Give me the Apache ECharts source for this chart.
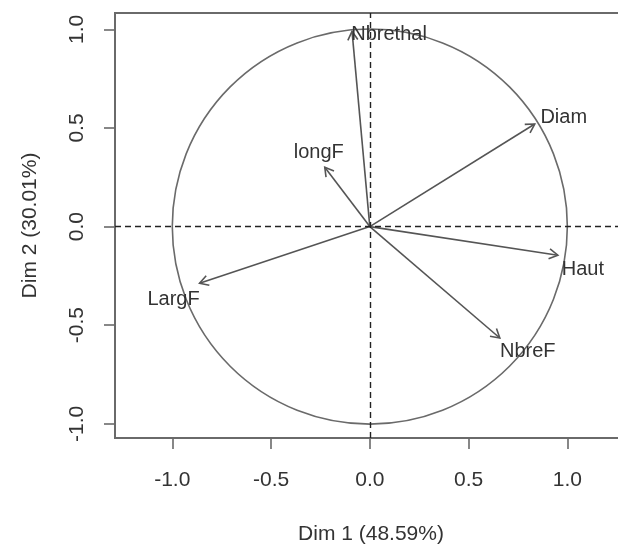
<!DOCTYPE html>
<html>
<head>
<meta charset="utf-8">
<script src="https://cdn.jsdelivr.net/npm/echarts@6/dist/echarts.min.js"></script>
<style>html,body{margin:0;padding:0;background:#fff;}#c{width:618px;height:544px;}</style>
</head>
<body>
<div id="c"></div>
<script>
// ---- data ----
var variables = ['Nbrethal', 'Diam', 'longF', 'LargF', 'Haut', 'NbreF'];
var dim1 = [-0.09, 0.835, -0.228, -0.862, 0.952, 0.658];
var dim2 = [0.99, 0.52, 0.301, -0.287, -0.145, -0.565];
var tickValues = [-1.0, -0.5, 0.0, 0.5, 1.0];
var xTitle = 'Dim 1 (48.59%)';
var yTitle = 'Dim 2 (30.01%)';

// ---- layout / style (pixel offsets of labels from arrow tips) ----
var labelOffsets = {
  'Nbrethal': [37, 3], 'Diam': [29, -7], 'longF': [-6, -15],
  'LargF': [-26, 16], 'Haut': [25, 14], 'NbreF': [28, 13]
};
var FONT = "'Liberation Sans', Arial, sans-serif";
var arrowColor = '#555';
var textColor = '#333';

var chart = echarts.init(document.getElementById('c'), null, {renderer: 'canvas'});

var arrowData = variables.map(function (n, i) { return [dim1[i], dim2[i], n]; });

function renderArrow(params, api) {
  var x = api.value(0), y = api.value(1);
  var name = variables[params.dataIndex];
  var o = api.coord([0, 0]);
  var t = api.coord([x, y]);
  var ang = Math.atan2(t[1] - o[1], t[0] - o[0]);
  var L = 10, a = Math.PI / 6;
  var h1 = [t[0] - L * Math.cos(ang - a), t[1] - L * Math.sin(ang - a)];
  var h2 = [t[0] - L * Math.cos(ang + a), t[1] - L * Math.sin(ang + a)];
  var off = labelOffsets[name] || [0, 0];
  var ls = {stroke: arrowColor, lineWidth: 1.6, fill: null};
  return {
    type: 'group',
    children: [
      {type: 'line', shape: {x1: o[0], y1: o[1], x2: t[0], y2: t[1]}, style: ls},
      {type: 'polyline', shape: {points: [h1, t, h2]}, style: ls},
      {type: 'text', x: t[0] + off[0], y: t[1] + off[1],
        style: {text: name, fill: textColor, font: '20px ' + FONT, align: 'center', verticalAlign: 'middle'}}
    ]
  };
}

function renderCircle(params, api) {
  var c = api.coord([0, 0]);
  var r = api.size([1, 1])[0];
  return {
    type: 'circle',
    shape: {cx: c[0], cy: c[1], r: r},
    style: {fill: null, stroke: '#6a6a6a', lineWidth: 1.6}
  };
}

var option = {
  backgroundColor: '#fff',
  animation: false,
  grid: {left: 115, top: 13, width: 512, height: 425, outerBoundsMode: 'none', containLabel: false,
    show: true, borderColor: '#6a6a6a', borderWidth: 2, backgroundColor: 'transparent'},
  xAxis: {
    type: 'value', min: -1.29, max: 1.302,
    name: xTitle, nameLocation: 'middle', nameGap: 86,
    nameTextStyle: {fontFamily: FONT, fontSize: 21, color: textColor},
    axisLine: {show: true, onZero: false, lineStyle: {color: '#6a6a6a', width: 2}},
    axisTick: {show: true, length: 11, customValues: tickValues, lineStyle: {color: '#6a6a6a', width: 1.6}},
    axisLabel: {customValues: tickValues, margin: 32, fontFamily: FONT, fontSize: 21, color: textColor,
      formatter: function (v) { return v.toFixed(1); }},
    splitLine: {show: false}
  },
  yAxis: {
    type: 'value', min: -1.072, max: 1.083,
    name: yTitle, nameLocation: 'middle', nameGap: 74, nameRotate: 90,
    nameTextStyle: {fontFamily: FONT, fontSize: 21, color: textColor},
    axisLine: {show: true, onZero: false, lineStyle: {color: '#6a6a6a', width: 2}},
    axisTick: {show: true, length: 11, customValues: tickValues, lineStyle: {color: '#6a6a6a', width: 1.6}},
    axisLabel: {customValues: tickValues, margin: 27, rotate: 90, fontFamily: FONT, fontSize: 21, color: textColor,
      formatter: function (v) { return v.toFixed(1); }},
    splitLine: {show: false}
  },
  series: [
    {
      type: 'custom', renderItem: renderCircle, data: [[0, 0]], silent: true, z: 2,
      markLine: {
        silent: true, symbol: ['none', 'none'], label: {show: false},
        lineStyle: {color: '#222', width: 1.4, type: [6, 4]},
        data: [{xAxis: 0}, {yAxis: 0}]
      }
    },
    {type: 'custom', renderItem: renderArrow, data: arrowData, silent: true, z: 3, clip: false}
  ]
};
chart.setOption(option);
</script>
</body>
</html>
